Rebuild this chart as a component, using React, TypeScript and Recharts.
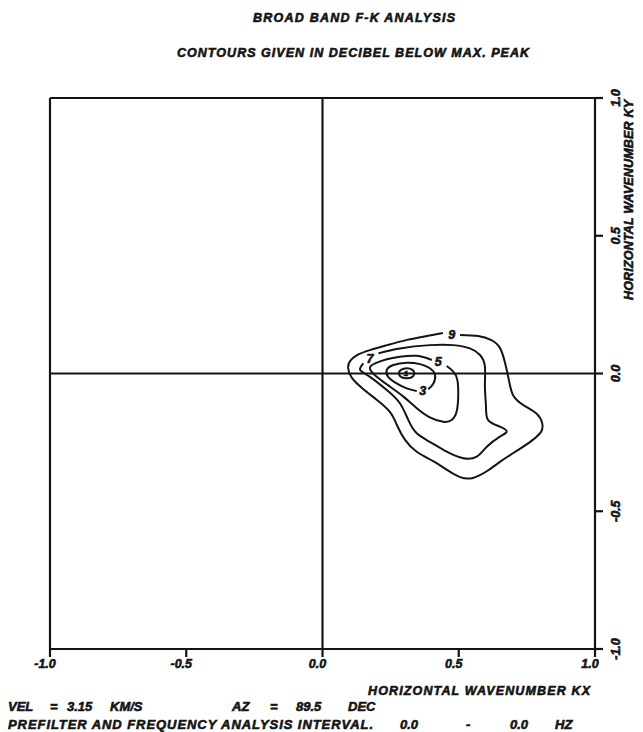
import { ComposedChart, Line, Scatter, XAxis, YAxis, ReferenceLine } from 'recharts';

// wavenumber grid, both axes run -1.0 .. 1.0
const AXIS_TICKS = [-1, -0.5, 0, 0.5, 1];
const TICK_LABELS = ['-1.0', '-0.5', '0.0', '0.5', '1.0'];

// contour lines (kx, ky), dB below the maximum peak; each is left open where its label sits
const contour9 = [
  { x: 0.505, y: 0.14 }, { x: 0.571, y: 0.136 }, { x: 0.618, y: 0.122 }, { x: 0.651, y: 0.093 },
  { x: 0.67, y: 0.038 }, { x: 0.684, y: -0.024 }, { x: 0.699, y: -0.078 }, { x: 0.736, y: -0.114 },
  { x: 0.787, y: -0.147 }, { x: 0.806, y: -0.18 }, { x: 0.802, y: -0.212 }, { x: 0.761, y: -0.249 },
  { x: 0.706, y: -0.285 }, { x: 0.651, y: -0.321 }, { x: 0.604, y: -0.354 }, { x: 0.552, y: -0.379 },
  { x: 0.505, y: -0.376 }, { x: 0.457, y: -0.35 }, { x: 0.406, y: -0.318 }, { x: 0.347, y: -0.285 },
  { x: 0.303, y: -0.241 }, { x: 0.273, y: -0.187 }, { x: 0.248, y: -0.14 }, { x: 0.2, y: -0.096 },
  { x: 0.149, y: -0.056 }, { x: 0.108, y: -0.016 }, { x: 0.094, y: 0.02 }, { x: 0.101, y: 0.045 },
  { x: 0.127, y: 0.067 }, { x: 0.174, y: 0.085 }, { x: 0.237, y: 0.103 }, { x: 0.31, y: 0.122 },
  { x: 0.383, y: 0.136 }, { x: 0.442, y: 0.147 },
];

const contour7 = [
  { x: 0.205, y: 0.073 }, { x: 0.284, y: 0.091 }, { x: 0.394, y: 0.103 }, { x: 0.48, y: 0.103 },
  { x: 0.541, y: 0.091 }, { x: 0.578, y: 0.067 }, { x: 0.596, y: 0.025 }, { x: 0.596, y: -0.048 },
  { x: 0.6, y: -0.121 }, { x: 0.608, y: -0.169 }, { x: 0.651, y: -0.193 }, { x: 0.676, y: -0.211 },
  { x: 0.651, y: -0.229 }, { x: 0.603, y: -0.266 }, { x: 0.566, y: -0.302 }, { x: 0.517, y: -0.308 },
  { x: 0.456, y: -0.284 }, { x: 0.394, y: -0.248 }, { x: 0.346, y: -0.217 }, { x: 0.315, y: -0.169 },
  { x: 0.284, y: -0.108 }, { x: 0.236, y: -0.06 }, { x: 0.174, y: -0.012 }, { x: 0.138, y: 0.013 },
  { x: 0.15, y: 0.037 },
];

const contour5 = [
  { x: 0.401, y: 0.049 }, { x: 0.346, y: 0.064 }, { x: 0.284, y: 0.061 }, { x: 0.236, y: 0.052 },
  { x: 0.193, y: 0.037 }, { x: 0.174, y: 0.019 }, { x: 0.199, y: -0.012 }, { x: 0.248, y: -0.048 },
  { x: 0.297, y: -0.084 }, { x: 0.346, y: -0.126 }, { x: 0.394, y: -0.159 }, { x: 0.443, y: -0.175 },
  { x: 0.474, y: -0.169 }, { x: 0.492, y: -0.139 }, { x: 0.498, y: -0.084 }, { x: 0.495, y: -0.024 },
  { x: 0.48, y: 0.007 }, { x: 0.456, y: 0.027 },
];

const contour3 = [
  { x: 0.388, y: -0.057 }, { x: 0.407, y: -0.036 }, { x: 0.413, y: -0.005 }, { x: 0.394, y: 0.019 },
  { x: 0.358, y: 0.034 }, { x: 0.309, y: 0.039 }, { x: 0.26, y: 0.031 }, { x: 0.236, y: 0.013 },
  { x: 0.241, y: -0.012 }, { x: 0.272, y: -0.036 }, { x: 0.309, y: -0.054 }, { x: 0.346, y: -0.064 },
];

const contour1 = [
  { x: 0.338, y: 0.001 }, { x: 0.33, y: 0.013 }, { x: 0.309, y: 0.019 }, { x: 0.288, y: 0.013 },
  { x: 0.28, y: 0.001 }, { x: 0.288, y: -0.012 }, { x: 0.309, y: -0.017 }, { x: 0.33, y: -0.012 },
  { x: 0.338, y: 0.001 },
];

const contourLabels = [
  { x: 0.474, y: 0.143, t: '9', size: 12.5 },
  { x: 0.174, y: 0.056, t: '7', size: 12.5 },
  { x: 0.425, y: 0.043, t: '5', size: 12.5 },
  { x: 0.368, y: -0.06, t: '3', size: 12.5 },
  { x: 0.306, y: 0.0, t: '1', size: 8 },
];

const INK = '#141414';
const FONT = '"Liberation Sans", Arial, sans-serif';
// heavy italic capitals, thickened with a thin outline like the plotter lettering
const textStyle = {
  fontFamily: FONT, fontWeight: 700, fontStyle: 'italic' as const, fill: INK,
  stroke: INK, strokeWidth: 0.6,
};

const BottomTick = (props: any) => {
  const { x, y, index } = props;
  return (
    <text x={x - 5} y={y + 9} textAnchor="middle" fontSize={12.5} style={textStyle}>
      {TICK_LABELS[index]}
    </text>
  );
};

const RightTick = (props: any) => {
  const { x, y, index } = props;
  return (
    <text transform={`translate(${x + 15},${y}) rotate(-90)`} textAnchor="middle" fontSize={12.5} style={textStyle}>
      {TICK_LABELS[index]}
    </text>
  );
};

const LevelLabel = (props: any) => {
  const { cx, cy, payload } = props;
  return (
    <text x={cx} y={cy} dy="0.36em" textAnchor="middle" fontSize={payload.size} style={textStyle}>
      {payload.t}
    </text>
  );
};

const contours = [contour9, contour7, contour5, contour3, contour1];

export default function App() {
  return (
    <div style={{ position: 'absolute', left: 0, top: 0, width: 643, height: 732, background: '#fff' }}>
      <ComposedChart width={643} height={732} margin={{ top: 88, right: 8, bottom: 53, left: 30 }}>
        <XAxis xAxisId="b" type="number" dataKey="x" domain={[-1, 1]} ticks={AXIS_TICKS} orientation="bottom"
          height={30} tickSize={8} tickMargin={2} interval={0} allowDataOverflow
          axisLine={{ stroke: INK, strokeWidth: 2.2 }} tickLine={{ stroke: INK, strokeWidth: 2.2 }} tick={BottomTick} />
        <XAxis xAxisId="t" type="number" dataKey="x" domain={[-1, 1]} ticks={AXIS_TICKS} orientation="top"
          height={10} tickSize={8} interval={0} allowDataOverflow
          axisLine={{ stroke: INK, strokeWidth: 2.2 }} tickLine={{ stroke: INK, strokeWidth: 2.2 }} tick={false} />
        <YAxis yAxisId="r" type="number" dataKey="y" domain={[-1, 1]} ticks={AXIS_TICKS} orientation="right"
          width={40} tickSize={8} tickMargin={2} interval={0} allowDataOverflow
          axisLine={{ stroke: INK, strokeWidth: 2.2 }} tickLine={{ stroke: INK, strokeWidth: 2.2 }} tick={RightTick} />
        <YAxis yAxisId="l" type="number" dataKey="y" domain={[-1, 1]} ticks={AXIS_TICKS} orientation="left"
          width={20} tickSize={8} interval={0} allowDataOverflow
          axisLine={{ stroke: INK, strokeWidth: 2.2 }} tickLine={{ stroke: INK, strokeWidth: 2.2 }} tick={false} />

        <ReferenceLine xAxisId="b" yAxisId="r" x={0} stroke={INK} strokeWidth={2.2} />
        <ReferenceLine xAxisId="b" yAxisId="r" y={0} stroke={INK} strokeWidth={2.2} />

        {contours.map((c, i) => (
          <Line key={i} xAxisId="b" yAxisId="r" data={c} dataKey="y" type="natural" dot={false}
            stroke={INK} strokeWidth={2} isAnimationActive={false} legendType="none" />
        ))}
        <Scatter xAxisId="b" yAxisId="r" data={contourLabels} dataKey="y" shape={LevelLabel} isAnimationActive={false} />
      </ComposedChart>

      <svg width={643} height={732} style={{ position: 'absolute', left: 0, top: 0, pointerEvents: 'none' }}>
        <g style={textStyle}>
          <text x={253} y={21.5} fontSize={12.5} textLength={202} lengthAdjust="spacing">BROAD BAND F-K ANALYSIS</text>
          <text x={177} y={57} fontSize={12.5} textLength={352} lengthAdjust="spacing">CONTOURS GIVEN IN DECIBEL BELOW MAX. PEAK</text>
          <text x={368} y={695} fontSize={12.5} textLength={222} lengthAdjust="spacing">HORIZONTAL WAVENUMBER  KX</text>
          <text transform="translate(633,300) rotate(-90)" fontSize={12.5} textLength={200} lengthAdjust="spacing">HORIZONTAL WAVENUMBER  KY</text>
          <text x={8} y={711} fontSize={13}>
            <tspan x={8}>VEL</tspan><tspan x={50}>=</tspan><tspan x={67}>3.15</tspan><tspan x={110}>KM/S</tspan>
            <tspan x={232}>AZ</tspan><tspan x={270}>=</tspan><tspan x={296}>89.5</tspan><tspan x={348}>DEC</tspan>
          </text>
          <text x={8} y={729} fontSize={13}>
            <tspan x={8} textLength={365} lengthAdjust="spacing">PREFILTER AND FREQUENCY ANALYSIS INTERVAL.</tspan>
            <tspan x={400}>0.0</tspan><tspan x={466}>-</tspan><tspan x={510}>0.0</tspan><tspan x={555}>HZ</tspan>
          </text>
        </g>
      </svg>
    </div>
  );
}
